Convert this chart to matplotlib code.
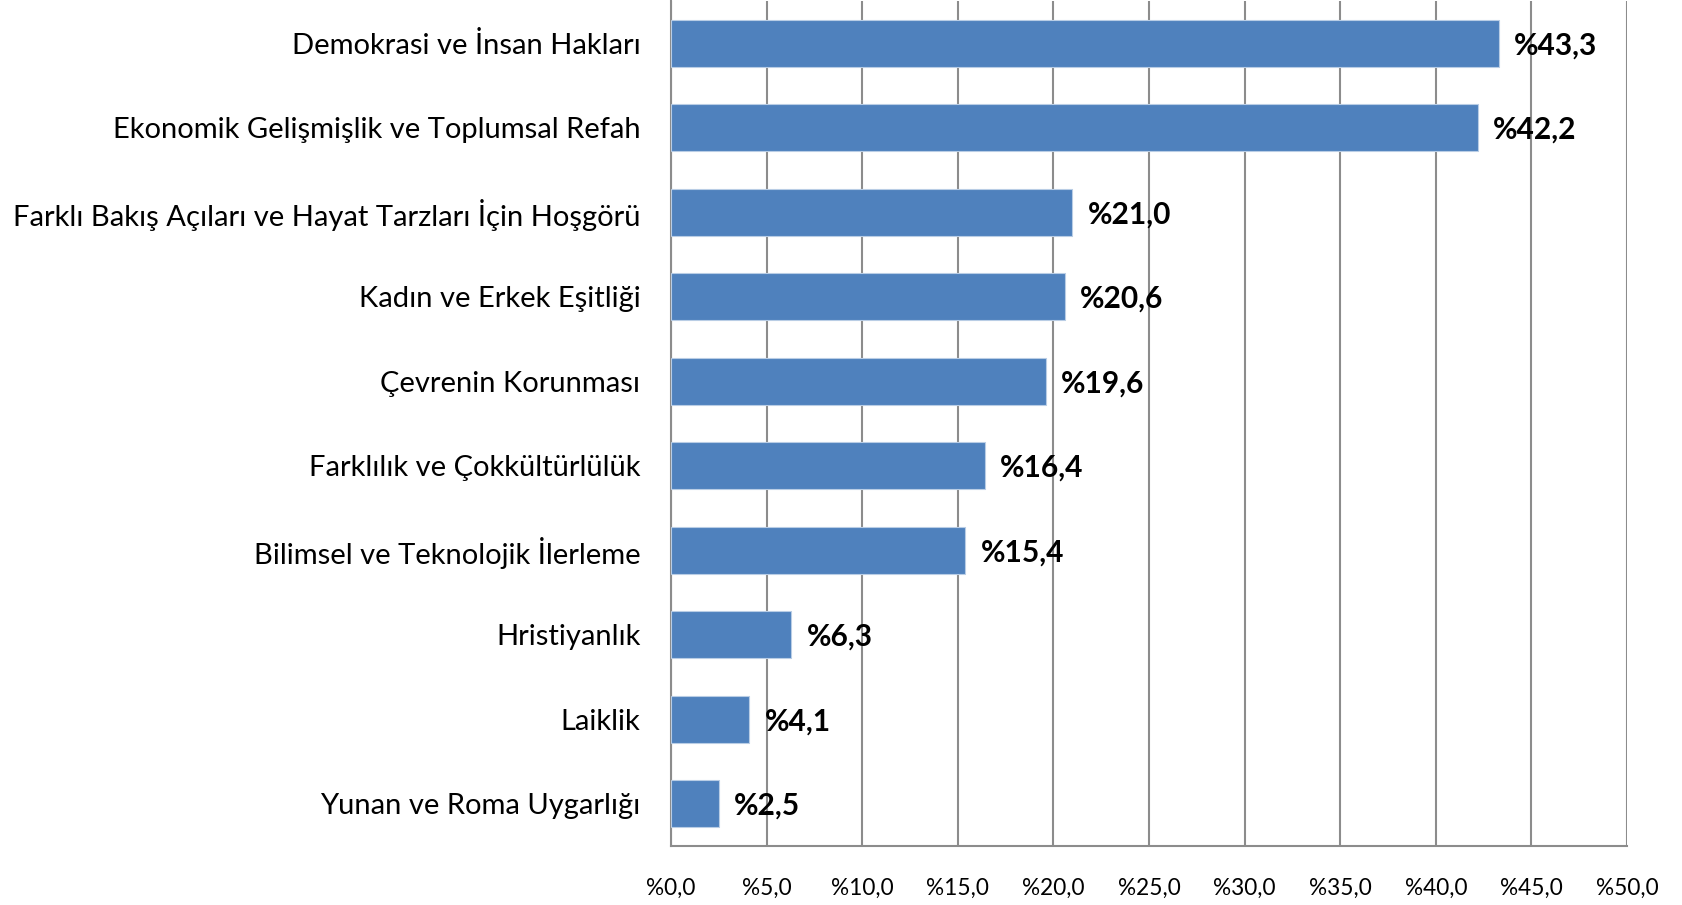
import matplotlib
matplotlib.use("Agg")
import matplotlib.pyplot as plt
from matplotlib.ticker import FixedLocator

categories = [
    "Demokrasi ve İnsan Hakları",
    "Ekonomik Gelişmişlik ve Toplumsal Refah",
    "Farklı Bakış Açıları ve Hayat Tarzları İçin Hoşgörü",
    "Kadın ve Erkek Eşitliği",
    "Çevrenin Korunması",
    "Farklılık ve Çokkültürlülük",
    "Bilimsel ve Teknolojik İlerleme",
    "Hristiyanlık",
    "Laiklik",
    "Yunan ve Roma Uygarlığı",
]
values = [43.3, 42.2, 21.0, 20.6, 19.6, 16.4, 15.4, 6.3, 4.1, 2.5]
xticks = [0, 5, 10, 15, 20, 25, 30, 35, 40, 45, 50]
xtick_labels = ["%" + f"{t:.1f}".replace(".", ",") for t in xticks]
value_labels = ["%" + f"{v:.1f}".replace(".", ",") for v in values]

plt.rcParams['font.family'] = ['Lato', 'DejaVu Sans']

fig = plt.figure(figsize=(16.82, 9.05), dpi=100)
ax = fig.add_axes([0.3989, 0.0652, 0.9673 - 0.3989, 0.9989 - 0.0652])

y = list(range(len(categories)))
ax.barh(y, values, height=0.56, color="#4F81BD", edgecolor="#B9CDE5", linewidth=0.8, zorder=3)
ax.set_ylim(len(categories) - 0.5, -0.5)
ax.set_xlim(0, 50)
ax.set_yticks(y)
ax.set_yticklabels(categories, fontsize=21)
ax.xaxis.set_major_locator(FixedLocator(xticks))
ax.set_xticklabels(xtick_labels, fontsize=16.3)
ax.tick_params(axis='y', length=0, pad=22)
ax.tick_params(axis='x', length=0, pad=23)
ax.grid(axis='x', color="#8C8C8C", linewidth=1.5, zorder=0)
for s in ['top', 'right']:
    ax.spines[s].set_visible(False)
for s in ['left', 'bottom']:
    ax.spines[s].set_color("#8C8C8C")
    ax.spines[s].set_linewidth(1.5)

for yi, v, lab in zip(y, values, value_labels):
    ax.annotate(lab, xy=(v, yi), xytext=(11, -1.5), textcoords='offset points',
                va='center', ha='left', fontsize=21.5, fontweight='bold', zorder=4)

fig.savefig("out.png", dpi=100)
